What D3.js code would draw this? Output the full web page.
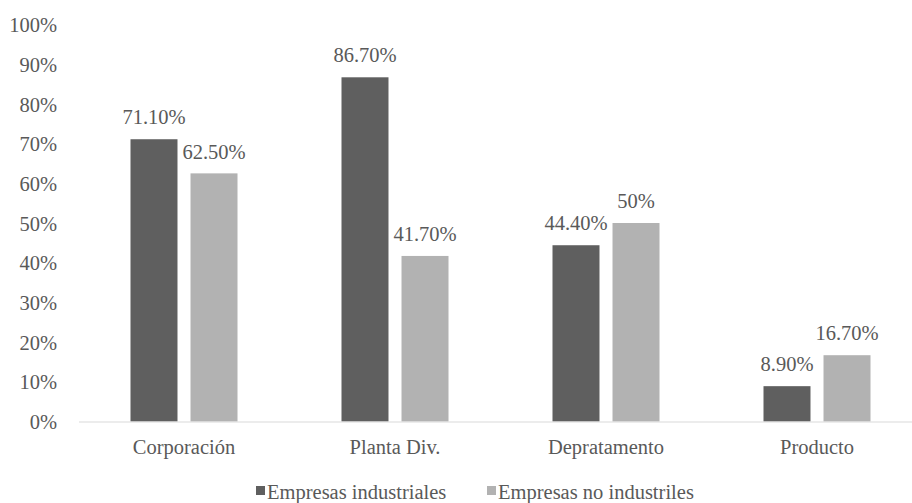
<!DOCTYPE html>
<html>
<head>
<meta charset="utf-8">
<script src="https://cdn.jsdelivr.net/npm/d3@7"></script>
<style>
  body { margin: 0; background: #fff; }
</style>
</head>
<body>
<div id="chart"></div>
<script>
var categories = ["Corporación", "Planta Div.", "Depratamento", "Producto"];
var series = ["Empresas industriales", "Empresas no industriles"];
var industriales = [71.1, 86.7, 44.4, 8.9];
var noIndustriales = [62.5, 41.7, 50, 16.7];
var industrialesLabels = ["71.10%", "86.70%", "44.40%", "8.90%"];
var noIndustrialesLabels = ["62.50%", "41.70%", "50%", "16.70%"];
var yTicks = [0, 10, 20, 30, 40, 50, 60, 70, 80, 90, 100];
var colors = ["#5f5f5f", "#b2b2b2"];

var width = 912, height = 503;
var font = "'Liberation Serif', 'Times New Roman', serif";
var textColor = "#595959";

var svg = d3.select("#chart").append("svg")
    .attr("width", width)
    .attr("height", height);

var x = d3.scaleBand().domain(categories).range([78.5, 922.5]);
var x1 = d3.scaleBand().domain(series).range([52, 159]).paddingInner(0.217);
var y = d3.scaleLinear().domain([0, 100]).range([421.5, 24.5]);

var rows = categories.map(function(c, i) {
  return {
    cat: c,
    vals: [
      {s: series[0], v: industriales[i], label: industrialesLabels[i], color: colors[0]},
      {s: series[1], v: noIndustriales[i], label: noIndustrialesLabels[i], color: colors[1]}
    ]
  };
});

// y axis labels, no line
var yAxis = svg.append("g")
    .attr("transform", "translate(57,0)")
    .call(d3.axisLeft(y).tickValues(yTicks).tickSize(0).tickPadding(0)
      .tickFormat(function(d) { return d + "%"; }));
yAxis.attr("font-family", font).attr("font-size", 20.5);
yAxis.select(".domain").remove();
yAxis.selectAll("text")
    .attr("dy", "0.35em")
    .attr("fill", textColor);

// bars
var groups = svg.selectAll(".grp")
    .data(rows)
    .enter().append("g")
    .attr("transform", function(d) { return "translate(" + x(d.cat) + ",0)"; });

groups.selectAll("rect")
    .data(function(d) { return d.vals; })
    .enter().append("rect")
    .attr("x", function(d) { return x1(d.s); })
    .attr("y", function(d) { return y(d.v); })
    .attr("width", x1.bandwidth())
    .attr("height", function(d) { return y(0) - y(d.v); })
    .attr("fill", function(d) { return d.color; });

groups.selectAll(".lbl")
    .data(function(d) { return d.vals; })
    .enter().append("text")
    .attr("x", function(d) { return x1(d.s) + x1.bandwidth() / 2; })
    .attr("y", function(d) { return y(d.v) - 22; })
    .attr("dy", "0.35em")
    .attr("text-anchor", "middle")
    .attr("font-family", font)
    .attr("font-size", 20.5)
    .attr("fill", textColor)
    .text(function(d) { return d.label; });

// x axis
var xAxis = svg.append("g")
    .attr("transform", "translate(0," + y(0) + ")")
    .call(d3.axisBottom(x).tickSize(0).tickPadding(0));
xAxis.attr("font-family", font).attr("font-size", 20.5);
xAxis.select(".domain").attr("stroke", "#d9d9d9").attr("stroke-width", 1);
xAxis.selectAll("text")
    .attr("y", 25.5)
    .attr("dy", "0.35em")
    .attr("fill", textColor);

// legend
var legendX = [256, 487];
var legend = svg.selectAll(".leg")
    .data(series)
    .enter().append("g")
    .attr("transform", function(d, i) { return "translate(" + legendX[i] + ",486)"; });
legend.append("rect")
    .attr("width", 9).attr("height", 9)
    .attr("fill", function(d, i) { return colors[i]; });
legend.append("text")
    .attr("x", 11)
    .attr("y", 5.5)
    .attr("dy", "0.35em")
    .attr("font-family", font)
    .attr("font-size", 20.5)
    .attr("fill", textColor)
    .text(function(d) { return d; });
</script>
</body>
</html>
